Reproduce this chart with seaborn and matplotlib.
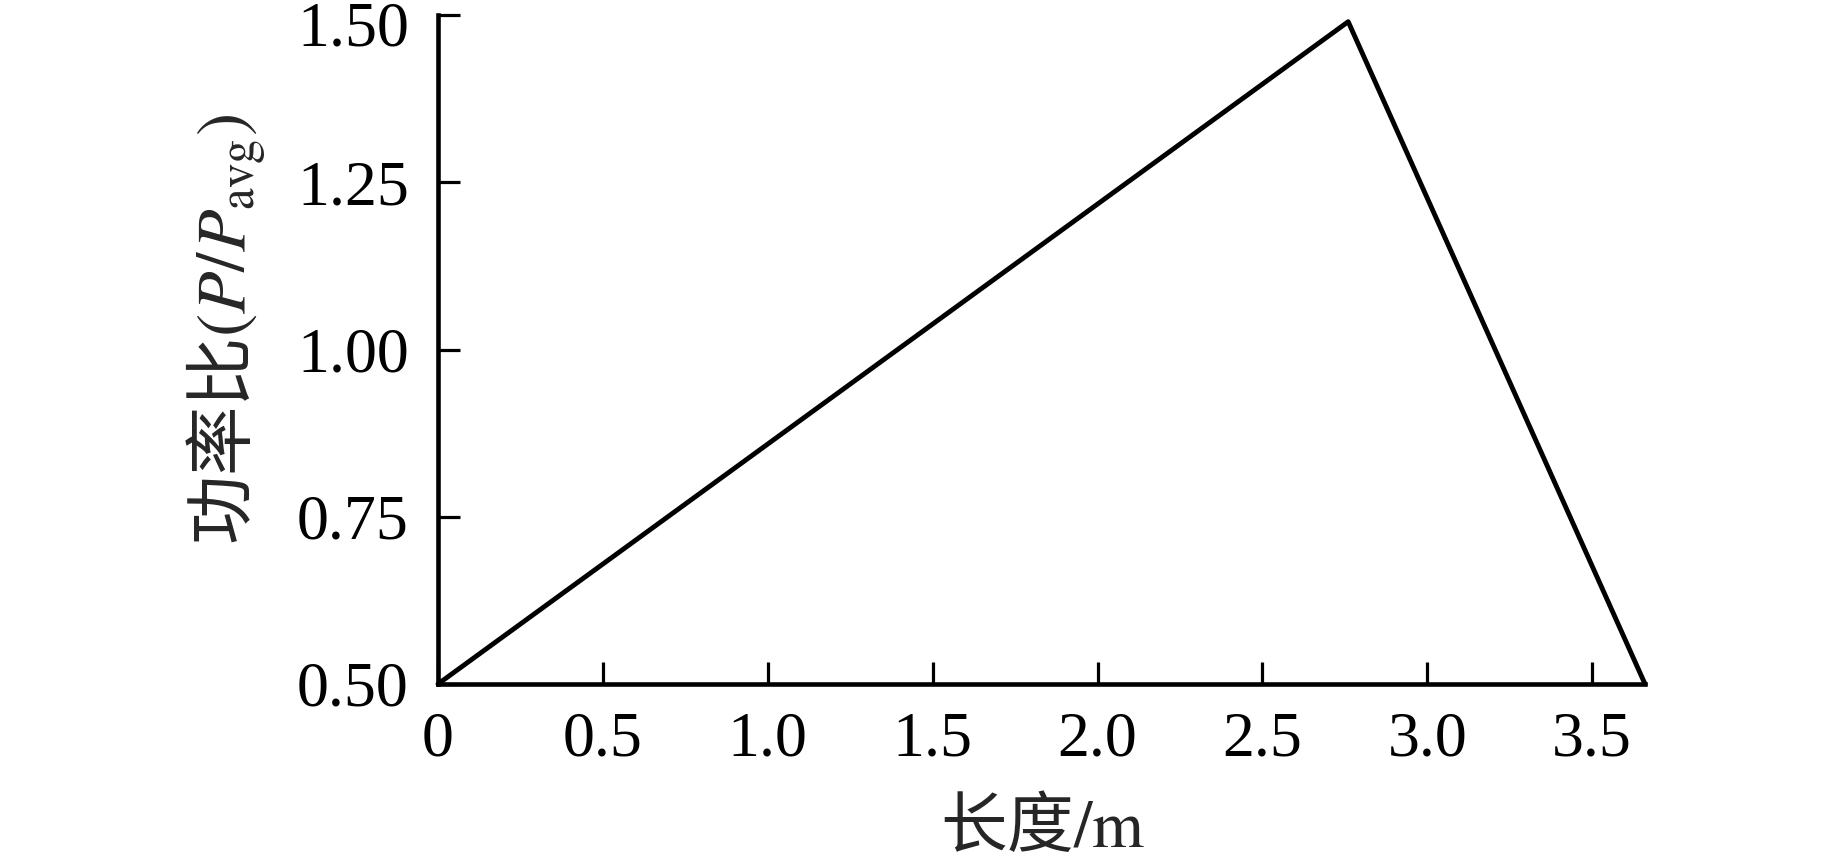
import matplotlib
matplotlib.use("Agg")
import matplotlib.pyplot as plt
import matplotlib.transforms as mtransforms
import seaborn as sns

# 长度 (m) vs 功率比 P/P_avg
length_m = [0.0, 2.76, 3.66]
power_ratio = [0.5, 1.49, 0.5]

x_ticks = [0, 0.5, 1.0, 1.5, 2.0, 2.5, 3.0, 3.5]
x_tick_labels = ['0', '0.5', '1.0', '1.5', '2.0', '2.5', '3.0', '3.5']
y_ticks = [0.50, 0.75, 1.00, 1.25, 1.50]
y_tick_labels = ['0.50', '0.75', '1.00', '1.25', '1.50']

sns.set_style('ticks')
plt.rcParams['font.family'] = ['Liberation Serif', 'Noto Sans CJK SC', 'DejaVu Sans']
plt.rcParams['mathtext.fontset'] = 'stix'

fig = plt.figure(figsize=(18.43, 8.64), dpi=100)
ax = fig.add_axes([438 / 1843, 1 - 684 / 864, (1645 - 438) / 1843, (684 - 15) / 864])

sns.lineplot(x=length_m, y=power_ratio, ax=ax, color='black', linewidth=3.5,
             sort=False, clip_on=False)

ax.set_xlim(0, 3.66)
ax.set_ylim(0.5, 1.5)
ax.set_xticks(x_ticks)
ax.set_xticklabels(x_tick_labels)
ax.set_yticks(y_ticks)
ax.set_yticklabels(y_tick_labels)

for s in ['top', 'right']:
    ax.spines[s].set_visible(False)
for s in ['left', 'bottom']:
    ax.spines[s].set_linewidth(3.3)
    ax.spines[s].set_color('black')

ax.tick_params(direction='in', length=16, width=2.3, colors='black', labelsize=46)
ax.tick_params(axis='x', pad=20)
ax.tick_params(axis='y', pad=21)
ax.set_xlabel('')
ax.set_ylabel('')

# top label sits a little lower in the original so it stays inside the frame
top_lbl = ax.get_yticklabels()[-1]
top_lbl.set_transform(top_lbl.get_transform() +
                      mtransforms.ScaledTranslation(0, -9 / 100, fig.dpi_scale_trans))

fig.text(226 / 1843, 1 - 330 / 864, r'功率比$(P/P_{\rm avg})$', rotation=90,
         ha='center', va='center', fontsize=50, family='Noto Sans CJK SC')
fig.text(1043 / 1843, 1 - 828 / 864, r'长度$\rm{/m}$',
         ha='center', va='center', fontsize=48, family='Noto Sans CJK SC')

fig.savefig('out.png', dpi=100, facecolor='white')
